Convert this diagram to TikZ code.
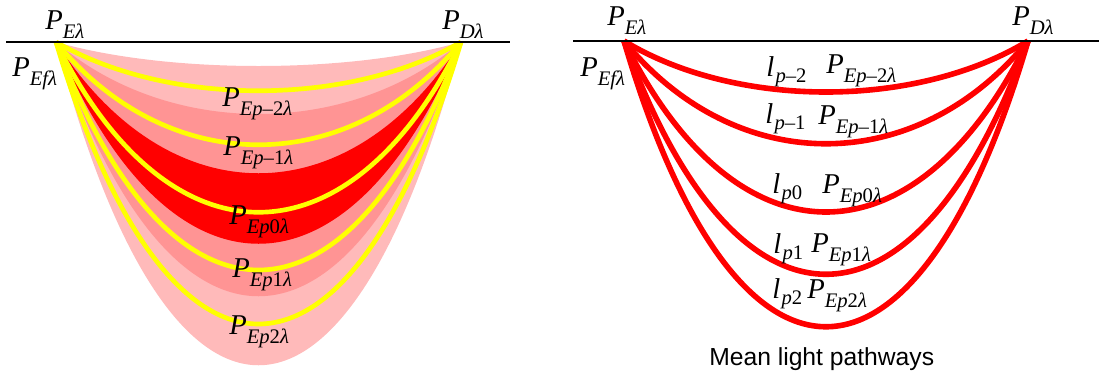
\documentclass[tikz,border=0pt]{standalone}
\usepackage{fontspec}
\setmainfont{Liberation Serif}
\newfontfamily\captionfont{Liberation Sans}
\usetikzlibrary{positioning}

\definecolor{bandlight}{RGB}{255,186,186}
\definecolor{bandmid}{RGB}{255,148,148}
\definecolor{bandcore}{RGB}{255,0,0}
\definecolor{pathyellow}{RGB}{255,255,0}

\newcommand{\subsz}{\fontsize{15.5}{16}\selectfont}
\newcommand{\Plab}[1]{\textit{P}\raisebox{-6.8pt}{\subsz #1}}
\newcommand{\llab}[1]{\textit{l}\kern1pt\raisebox{-5.2pt}{\subsz #1}}

\begin{document}
\begin{tikzpicture}[
    x=0.75pt, y=-0.75pt,
    lbl/.style={anchor=base west, inner sep=0pt, font=\fontsize{21.5}{23}\selectfont},
    surface/.style={draw=black, line width=2.2pt},
    yellowpath/.style={draw=pathyellow, line width=3.5pt},
    redpath/.style={draw=red, line width=4.2pt},
    caption/.style={anchor=base west, inner sep=0pt, font=\captionfont\fontsize{18.5}{20}\selectfont}
]
\useasboundingbox (0,0) rectangle (1099,379);

% --- Left panel: bands of light pathways ---
\coordinate (PEl) at (56,42);
\coordinate (PDl) at (461,42);

\fill[bandlight] (PEl) .. controls +(112,32) and +(-112,32) .. (PDl)
    .. controls +(-112,431) and +(112,431) .. (PEl) -- cycle;
\fill[bandmid] (PEl) .. controls +(112,96) and +(-112,96) .. (PDl)
    .. controls +(-112,339) and +(112,339) .. (PEl) -- cycle;
\fill[bandcore] (PEl) .. controls +(112,175) and +(-112,175) .. (PDl)
    .. controls +(-112,269) and +(112,269) .. (PEl) -- cycle;

\foreach \d in {65,137,227,304,376}
    \draw[yellowpath] (PEl) .. controls +(112,\d) and +(-112,\d) .. (PDl);

\coordinate (SurfLa) at (6,42);
\coordinate (SurfLb) at (510,42);
\draw[surface] (SurfLa) -- (SurfLb);

\node[lbl] (lEl) at (45,29) {\Plab{\textit{Eλ}}};
\node[lbl] (lDl) at (442,29) {\Plab{\textit{Dλ}}};
\node[lbl] (lEfl) at (12,76) {\Plab{\textit{Efλ}}};
\node[lbl] (lm2) at (222,106) {\Plab{\textit{Ep}–2\textit{λ}}};
\node[lbl] (lm1) at (223,155) {\Plab{\textit{Ep}–1\textit{λ}}};
\node[lbl] (l0) at (229,224) {\Plab{\textit{Ep}0\textit{λ}}};
\node[lbl] (l1) at (232,277) {\Plab{\textit{Ep}1\textit{λ}}};
\node[lbl] (l2) at (229,334) {\Plab{\textit{Ep}2\textit{λ}}};

% --- Right panel: mean light pathways ---
\coordinate (PEr) at (624,41);
\coordinate (PDr) at (1028,41);

\foreach \d in {68,137,228,311,381}
    \draw[redpath] (PEr) .. controls +(112,\d) and +(-112,\d) .. (PDr);

\coordinate (SurfRa) at (573,41);
\coordinate (SurfRb) at (1099,41);
\draw[surface] (SurfRa) -- (SurfRb);

\node[lbl] (rEr) at (607,25) {\Plab{\textit{Eλ}}};
\node[lbl] (rDr) at (1012,25) {\Plab{\textit{Dλ}}};
\node[lbl] (rEfr) at (580,76) {\Plab{\textit{Efλ}}};

\node[lbl] (lenm2) at (766,76) {\llab{\textit{p}–2}};
\node[lbl] (rm2) at (826,73) {\Plab{\textit{Ep}–2\textit{λ}}};
\node[lbl] (lenm1) at (765,123) {\llab{\textit{p}–1}};
\node[lbl] (rm1) at (818,124) {\Plab{\textit{Ep}–1\textit{λ}}};
\node[lbl] (len0) at (772,193) {\llab{\textit{p}0}};
\node[lbl] (r0) at (822,193) {\Plab{\textit{Ep}0\textit{λ}}};
\node[lbl] (len1) at (773,253) {\llab{\textit{p}1}};
\node[lbl] (r1) at (811,252) {\Plab{\textit{Ep}1\textit{λ}}};
\node[lbl] (len2) at (772,298) {\llab{\textit{p}2}};
\node[lbl] (r2) at (807,298) {\Plab{\textit{Ep}2\textit{λ}}};

\node[caption] (cap) at (709,365) {Mean light pathways};

\end{tikzpicture}
\end{document}
